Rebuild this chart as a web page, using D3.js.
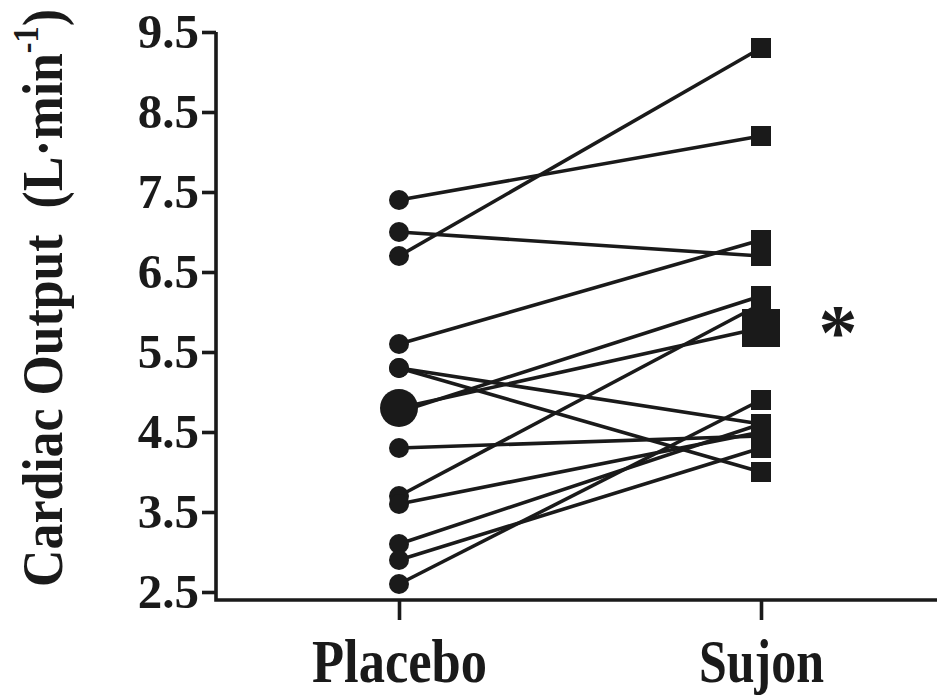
<!DOCTYPE html>
<html>
<head>
<meta charset="utf-8">
<script src="https://cdn.jsdelivr.net/npm/d3@7"></script>
<style>
  body { margin: 0; background: #fff; }
  text { font-family: "Liberation Serif", "Times New Roman", serif; font-weight: bold; fill: #1a1a1a; }
</style>
</head>
<body>
<div id="draw_here"></div>
<script>
    // Data
    groups = ["Placebo", "Sujon"]
    placebo = [7.4, 7.0, 6.7, 5.6, 5.3, 5.3, 4.75, 4.3, 3.7, 3.6, 3.1, 2.9, 2.6]
    sujon   = [8.2, 6.7, 9.3, 6.9, 4.6, 4.0, 6.2, 4.45, 6.1, 4.5, 4.6, 4.3, 4.9]
    placebo_mean = [4.8]
    sujon_mean = [5.8]
    y_ticks = [2.5, 3.5, 4.5, 5.5, 6.5, 7.5, 8.5, 9.5]

    canvas = ({width: 937, height: 696})
    ink = "#1a1a1a"
    lw = 3.6

    x = d3.scalePoint()
        .domain(groups)
        .range([399, 761])

    y = d3.scaleLinear()
        .domain([2.5, 9.5])
        .range([592, 32])

    var svg = d3.select("div#draw_here").append("svg")
        .attr("width", canvas.width)
        .attr("height", canvas.height)
        .attr("viewBox", [0, 0, canvas.width, canvas.height]);

    axis_x0 = 216
    axis_y0 = 600

    // y axis
    yAxis = g => g
        .attr("transform", `translate(${axis_x0},0)`)
        .call(d3.axisLeft(y).tickValues(y_ticks).tickSize(14).tickPadding(3).tickFormat(d3.format(".1f")))
        .call(g => g.select(".domain").remove())
        .call(g => g.selectAll(".tick line").attr("stroke", ink).attr("stroke-width", lw))
        .call(g => g.selectAll(".tick text")
            .attr("fill", ink)
            .attr("font-size", 49)
            .attr("font-family", "Liberation Serif")
            .attr("font-weight", "bold"))

    svg.append("g").call(yAxis)

    // x axis
    xAxis = g => g
        .attr("transform", `translate(0,${axis_y0})`)
        .call(d3.axisBottom(x).tickSize(20).tickPadding(18))
        .call(g => g.select(".domain").remove())
        .call(g => g.selectAll(".tick line").attr("stroke", ink).attr("stroke-width", lw))
        .call(g => g.selectAll(".tick text")
            .attr("fill", ink)
            .attr("font-size", 62)
            .attr("font-family", "Liberation Serif")
            .attr("font-weight", "bold")
            .attr("textLength", d => d == "Placebo" ? 175 : 125)
            .attr("lengthAdjust", "spacingAndGlyphs"))

    svg.append("g").call(xAxis)

    // axis lines, drawn as one path so the corner joins
    svg.append("path")
        .attr("fill", "none")
        .attr("stroke", ink)
        .attr("stroke-width", lw)
        .attr("d", d3.line()([[axis_x0, y(9.5)], [axis_x0, axis_y0], [canvas.width, axis_y0]]))

    // paired lines
    pairs = d3.zip(placebo, sujon)
    line = d3.line()
        .x(d => x(d[0]))
        .y(d => y(d[1]))

    svg.append("g")
        .selectAll("path")
        .data(pairs)
        .join("path")
        .attr("fill", "none")
        .attr("stroke", ink)
        .attr("stroke-width", lw)
        .attr("d", d => line([["Placebo", d[0]], ["Sujon", d[1]]]))

    // mean line
    svg.append("path")
        .attr("fill", "none")
        .attr("stroke", ink)
        .attr("stroke-width", lw)
        .attr("d", line([["Placebo", placebo_mean[0]], ["Sujon", sujon_mean[0]]]))

    // placebo circles
    svg.append("g")
        .selectAll("circle")
        .data(placebo)
        .join("circle")
        .attr("cx", x("Placebo"))
        .attr("cy", d => y(d))
        .attr("r", 10)
        .attr("fill", ink)

    svg.append("circle")
        .attr("cx", x("Placebo"))
        .attr("cy", y(placebo_mean[0]))
        .attr("r", 19)
        .attr("fill", ink)

    // sujon squares
    sq = 20
    svg.append("g")
        .selectAll("rect")
        .data(sujon)
        .join("rect")
        .attr("x", x("Sujon") - sq / 2)
        .attr("y", d => y(d) - sq / 2)
        .attr("width", sq)
        .attr("height", sq)
        .attr("fill", ink)

    big = 38
    svg.append("rect")
        .attr("x", x("Sujon") - big / 2)
        .attr("y", y(sujon_mean[0]) - big / 2)
        .attr("width", big)
        .attr("height", big)
        .attr("fill", ink)

    // significance mark
    svg.append("text")
        .attr("x", 838)
        .attr("y", y(sujon_mean[0]) + 30)
        .attr("text-anchor", "middle")
        .attr("font-size", 78)
        .text("*")

    // y title - squeezed along its length to fit the axis height
    title = svg.append("text")
        .attr("text-anchor", "middle")
        .attr("font-size", 58)
    title.append("tspan").text("Cardiac Output\u00a0 (L\u00b7min")
    title.append("tspan").attr("font-size", 36).attr("dy", -24).text("-1")
    title.append("tspan").attr("dy", 24).text(")")
    title_len = title.node().getComputedTextLength()
    title.attr("transform", `translate(62,298) rotate(-90) scale(${578 / title_len},1)`)
</script>
</body>
</html>
